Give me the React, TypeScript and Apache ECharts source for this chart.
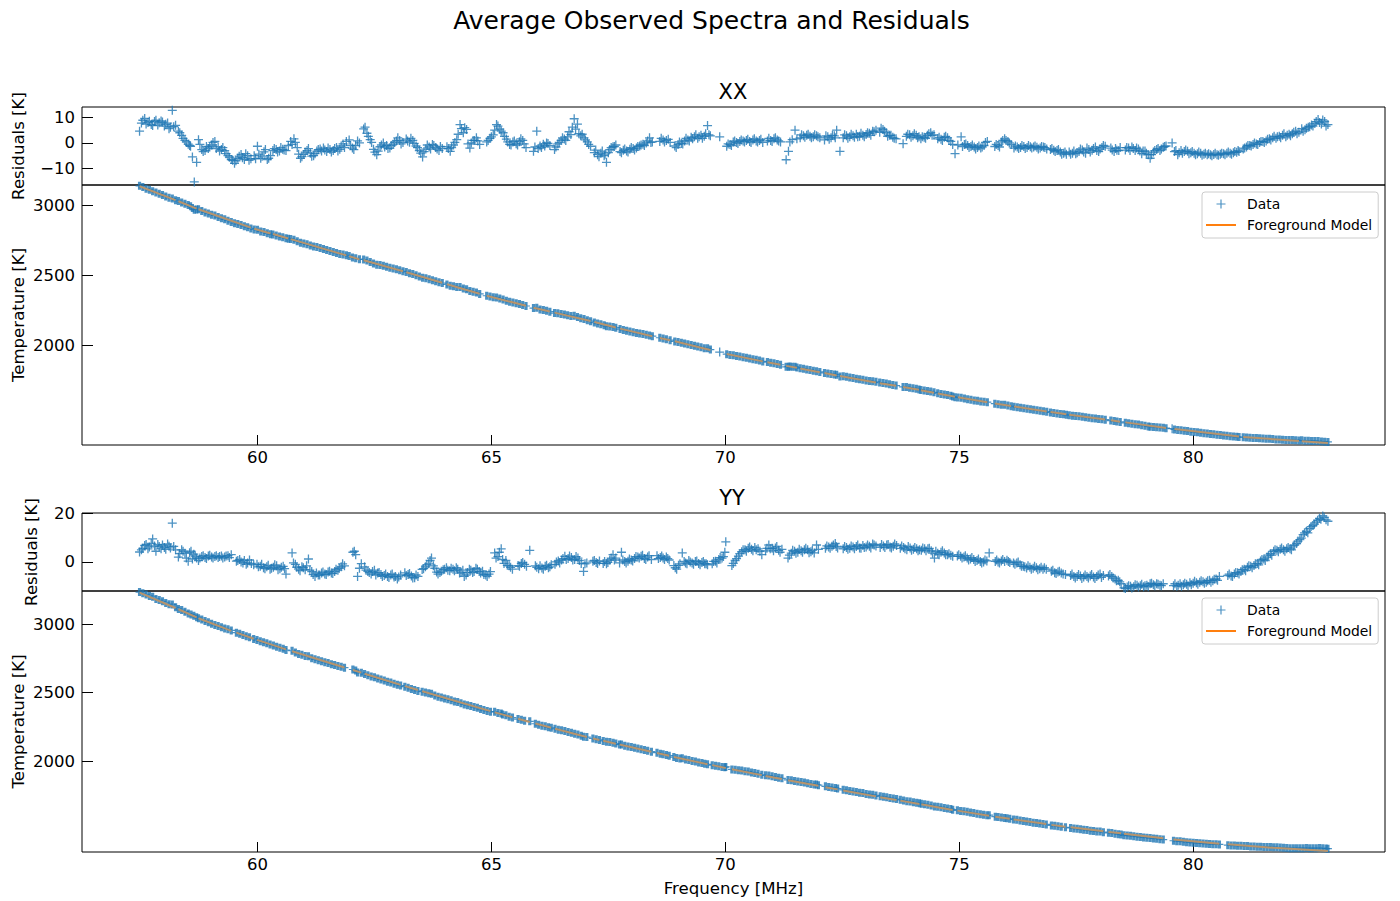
import React, { useEffect, useRef } from "react";
import * as echarts from "echarts";

// channels kept after flagging, one row per contiguous block
const freqXX = [
  57.48,57.55,57.62,57.69,57.76,57.83,57.90,57.97,58.04,58.11,58.18,58.25,
  58.31,58.38,58.45,58.52,58.57,58.61,58.65,58.70,
  58.74,58.81,58.88,58.95,59.02,59.09,59.16,59.23,59.30,59.37,59.44,59.51,59.58,59.65,59.72,59.79,59.86,
  59.93,60.00,60.07,60.14,60.21,60.28,
  60.33,60.40,60.47,60.54,60.61,60.66,
  60.71,60.78,60.85,60.92,60.99,61.06,61.13,61.20,61.27,61.34,61.41,61.48,61.55,61.62,61.69,61.76,61.83,61.90,
  61.96,62.03,62.10,62.18,
  62.27,62.34,62.41,62.48,62.55,62.62,62.69,62.76,62.83,62.90,62.97,63.04,63.11,
  63.18,63.25,63.32,63.39,63.46,63.53,63.60,63.67,63.74,63.81,63.88,63.95,
  64.05,64.12,64.19,64.26,64.33,64.40,64.47,64.54,64.61,64.68,64.75,
  64.90,64.97,65.04,65.11,65.18,65.25,65.32,65.39,65.46,65.53,65.60,65.67,65.74,
  65.90,65.97,66.04,66.11,66.18,66.25,
  66.35,66.42,66.49,66.56,66.63,66.70,66.77,66.84,66.91,66.98,67.05,67.12,
  67.20,67.27,67.34,67.41,67.46,67.53,67.60,67.66,
  67.75,67.82,67.89,67.96,68.03,68.10,68.17,68.24,68.31,68.38,68.44,
  68.60,68.67,68.74,68.82,
  68.92,68.99,69.06,69.13,69.20,69.27,69.34,69.41,69.48,69.55,69.62,69.68,
  69.88,
  70.03,70.10,70.17,70.24,70.31,70.38,70.45,70.52,70.59,70.66,70.73,70.80,
  70.90,70.97,71.04,71.11,71.18,
  71.30,71.35,71.38,71.43,71.49,71.53,
  71.60,71.67,71.74,71.81,71.88,71.95,72.02,
  72.12,72.19,72.26,72.33,72.38,
  72.45,72.52,72.59,72.66,72.73,72.80,72.87,72.94,73.01,73.08,73.15,73.22,
  73.30,73.37,73.44,73.51,73.58,73.65,
  73.80,73.87,73.94,74.01,74.08,74.14,
  74.18,74.25,74.32,74.39,74.46,
  74.54,74.61,74.68,74.75,74.82,74.86,74.91,
  74.97,75.04,75.11,75.18,75.25,75.32,75.39,75.46,75.53,75.60,
  75.76,75.83,75.90,75.97,76.04,76.11,
  76.17,76.24,76.31,76.38,76.45,76.52,76.59,76.66,76.73,76.80,76.87,
  76.95,77.02,77.09,77.16,77.23,77.29,
  77.35,77.42,77.49,77.56,77.63,77.70,77.77,77.84,77.91,77.98,78.05,78.12,
  78.24,78.31,78.37,78.44,
  78.55,78.62,78.69,78.76,78.83,78.90,78.97,79.04,79.08,79.15,79.22,79.29,79.36,79.42,
  79.55,
  79.60,79.67,79.74,79.81,79.88,79.95,80.02,80.09,80.16,80.23,80.30,80.37,80.44,80.51,80.58,80.65,80.72,80.79,80.86,80.93,80.98,
  81.07,81.14,81.21,81.28,81.35,81.42,81.49,81.56,81.63,81.70,81.77,81.84,81.91,81.98,82.05,82.12,82.19,82.26,
  82.32,82.39,82.46,82.53,82.60,82.67,82.74,82.81,82.88,
];
const residualXX = [
  4.6,8.9,7.4,8.5,6.8,8.9,7.9,8.2,7.3,5.6,12.8,6.9,
  4.6,3.0,1.0,-0.5,-1.3,-5.5,-15.3,-7.6,
  1.3,-2.6,-3.0,-2.2,-0.8,0.6,-1.5,-2.6,-3.0,-5.0,-6.5,-8.0,-6.0,-4.5,-6.5,-5.0,-6.2,
  -5.0,-1.3,-6.0,-3.5,-6.5,-5.0,
  -3.0,-2.6,-3.2,-2.5,-3.0,-1.0,
  0.6,1.6,-1.8,-6.0,-4.5,-3.0,-4.0,-5.0,-3.2,-2.4,-2.0,-3.4,-2.6,-3.0,-1.8,-2.5,-0.4,0.6,
  1.2,-2.0,-1.0,0.0,
  5.5,3.8,1.3,-2.5,-4.6,-1.5,0.0,-1.0,-2.0,-0.5,0.8,1.0,0.2,
  1.5,0.3,1.0,-1.2,-3.0,-5.5,-2.4,-1.6,-0.6,-1.8,-3.0,-2.2,
  -1.5,-3.3,-0.8,1.3,7.2,4.0,5.3,-2.0,1.0,2.0,-0.6,
  0.4,1.8,3.2,7.2,5.4,4.0,1.5,-0.6,0.4,-0.3,0.5,1.0,-1.8,
  -3.3,4.6,-1.2,-0.5,0.0,-1.0,
  -2.6,-0.4,1.0,1.5,2.4,3.3,9.5,7.4,2.8,2.0,0.4,-1.3,
  -3.8,-4.6,-4.0,-5.0,-7.6,-2.6,-1.5,-0.8,
  -3.4,-2.9,-3.2,-2.5,-2.2,-2.0,-1.2,-0.5,0.0,2.0,0.4,
  0.6,1.2,1.0,0.2,
  -1.2,-0.6,-0.2,0.8,1.2,2.2,2.4,1.8,3.0,2.6,6.8,2.8,
  2.4,
  -1.3,-0.6,0.4,0.2,0.6,0.8,1.0,0.6,1.2,0.8,1.0,0.2,
  0.8,1.0,1.6,1.2,0.4,
  -6.6,-3.3,0.4,1.3,5.0,1.6,
  2.0,2.8,3.0,2.6,2.4,2.8,2.0,
  1.2,2.4,2.0,2.8,5.0,
  -3.3,2.0,2.8,2.4,2.8,3.4,2.6,3.0,3.3,3.8,4.6,5.0,
  4.2,5.3,4.0,3.0,2.2,1.6,
  -0.3,2.6,3.2,2.8,3.0,2.4,
  1.6,2.2,3.0,4.0,3.2,
  1.6,1.4,2.2,2.0,0.6,-0.6,-4.2,
  -0.8,2.4,-0.6,-1.0,-1.4,-1.6,-1.8,-2.0,-1.0,0.6,
  -1.4,-1.0,0.4,1.6,0.6,-0.6,
  -2.0,-1.6,-1.8,-1.4,-1.8,-1.5,-1.6,-1.7,-2.0,-1.6,-2.4,
  -2.6,-2.9,-3.0,-3.6,-4.0,-4.4,
  -3.6,-4.0,-4.2,-3.4,-2.8,-4.0,-2.6,-2.9,-1.6,-3.4,-1.8,-1.3,
  -2.0,-3.4,-2.9,-1.8,
  -2.8,-2.0,-1.6,-3.0,-2.4,-4.2,-3.2,-4.6,-6.0,-3.6,-2.6,-3.0,-1.7,-1.2,
  0.0,
  -3.4,-4.6,-3.0,-3.4,-3.3,-3.8,-4.0,-4.2,-4.0,-4.4,-4.6,-4.6,-4.5,-4.6,-4.4,-4.2,-4.0,-4.0,-3.8,-3.7,-3.4,
  -2.4,-1.6,-1.0,-0.6,-0.4,0.2,0.6,0.8,1.6,2.0,1.8,2.6,3.0,2.4,3.4,3.6,4.6,4.2,
  5.6,5.2,6.2,7.0,7.6,9.2,7.4,8.4,7.2,
];
const freqBetweenXX = [
  57.52,57.59,57.66,57.73,57.80,57.87,57.94,58.01,58.08,58.14,58.21,
  58.34,58.41,58.48,58.55,
  58.77,58.84,58.91,58.98,59.05,59.12,59.19,59.26,59.33,59.40,59.47,59.54,59.61,59.68,59.75,59.82,
  59.96,60.03,60.10,60.17,60.24,
  60.36,60.43,60.50,60.57,
  60.74,60.81,60.88,60.95,61.02,61.09,61.16,61.23,61.30,61.37,61.44,61.51,61.58,61.65,61.72,61.79,61.86,
  61.99,62.06,62.14,
  62.30,62.37,62.44,62.51,62.58,62.65,62.72,62.79,62.86,62.93,63.00,63.07,
  63.21,63.28,63.35,63.42,63.49,63.56,63.63,63.70,63.77,63.84,63.91,
  64.08,64.15,64.22,64.29,64.36,64.43,64.50,64.57,64.64,64.71,
  64.93,65.00,65.07,65.14,65.21,65.28,65.35,65.42,65.49,65.56,65.63,65.70,
  65.93,66.00,66.07,66.14,66.21,
  66.38,66.45,66.52,66.59,66.66,66.73,66.80,66.87,66.94,67.01,67.08,
  67.23,67.30,67.37,67.43,67.50,67.56,67.63,
  67.78,67.85,67.92,67.99,68.06,68.13,68.20,68.27,68.34,68.41,
  68.63,68.70,68.78,
  68.95,69.02,69.09,69.16,69.23,69.30,69.37,69.44,69.51,69.58,69.65,
  70.06,70.13,70.20,70.27,70.34,70.41,70.48,70.55,70.62,70.69,70.76,
  70.93,71.00,71.07,71.14,
  71.63,71.70,71.77,71.84,71.91,71.98,
  72.15,72.22,72.29,72.35,
  72.55,72.62,72.69,72.76,72.83,72.90,72.97,73.04,73.11,73.18,
  73.33,73.40,73.47,73.54,73.61,
  73.90,73.97,74.04,74.11,
  74.21,74.28,74.35,74.42,
  74.57,74.64,74.71,74.78,
  75.07,75.14,75.21,75.28,75.35,75.42,75.49,75.56,
  75.79,75.86,75.93,76.00,76.07,
  76.20,76.27,76.34,76.41,76.48,76.55,76.62,76.69,76.76,76.83,
  76.98,77.05,77.12,77.19,77.26,
  77.38,77.45,77.52,77.59,77.66,77.73,77.80,77.87,77.94,78.01,78.08,
  78.27,78.34,78.41,
  78.58,78.65,78.72,78.79,78.86,78.93,79.00,79.11,79.18,79.25,79.32,79.39,
  79.63,79.70,79.77,79.84,79.91,79.98,80.05,80.12,80.19,80.26,80.33,80.40,80.47,80.54,80.61,80.68,80.75,80.82,80.89,80.96,
  81.10,81.17,81.24,81.31,81.38,81.45,81.52,81.59,81.66,81.73,81.80,81.87,81.94,82.01,82.08,82.15,82.22,
  82.35,82.42,82.49,82.56,82.63,82.70,82.77,82.84,
];
const residualBetweenXX = [
  7.8,9.6,8.0,7.2,8.4,7.0,8.6,6.6,7.8,6.2,6.4,
  4.0,1.8,0.4,-1.0,
  -0.6,-3.4,-1.4,-1.6,0.2,-2.2,-3.2,-1.8,-4.2,-5.6,-6.8,-7.0,-5.2,-5.8,-4.2,-6.8,
  -6.2,-4.4,-5.2,-2.6,-6.0,
  -2.2,-3.6,-1.8,-2.8,
  -0.6,0.2,-4.4,-5.4,-3.6,-2.2,-5.2,-4.2,-2.6,-3.2,-2.8,-2.0,-3.6,-2.2,-3.2,-1.2,-1.8,
  -1.0,-2.6,0.8,
  6.2,2.6,0.2,-3.6,-3.2,-0.8,-1.6,-2.2,-1.0,0.2,2.0,-0.4,
  0.8,1.8,-0.2,-1.8,-4.0,-3.4,-0.8,-2.4,-1.0,-2.4,-1.4,
  -2.2,-1.8,0.2,3.4,5.6,6.0,-0.4,0.0,1.0,0.8,
  1.0,2.4,5.0,6.6,4.6,2.6,0.4,-0.8,0.8,-0.8,1.6,-0.4,
  -1.6,-2.2,-1.8,-1.2,-0.2,
  -1.6,0.2,2.0,1.0,4.4,6.2,5.4,3.6,3.4,1.2,-0.6,
  -2.8,-5.4,-3.2,-4.4,-3.8,-1.8,-1.4,
  -3.8,-2.4,-3.6,-1.8,-2.8,-1.4,-0.8,-1.0,0.8,0.2,
  1.8,0.4,1.4,
  -1.8,0.4,-0.4,1.8,0.8,1.6,3.2,2.4,1.8,3.6,3.2,
  -0.4,-1.0,0.8,-0.2,1.2,0.4,1.4,0.2,1.6,0.4,1.4,
  1.8,0.6,2.0,0.8,
  3.2,2.2,3.4,2.0,3.2,2.4,
  2.8,1.4,3.0,2.0,
  3.2,1.8,3.4,2.2,2.4,3.8,2.4,4.0,3.0,4.4,
  5.8,4.6,2.6,3.0,1.8,
  3.4,2.2,3.6,2.0,
  2.4,1.8,3.6,3.0,
  2.2,1.0,2.6,1.0,
  -1.4,-0.4,-1.8,-0.8,-2.4,-1.2,-1.6,0.2,
  -0.6,-1.6,1.0,1.0,0.0,
  -1.2,-2.2,-1.0,-2.2,-1.0,-2.0,-1.2,-2.4,-1.4,-1.8,
  -2.2,-3.4,-2.6,-4.4,-3.6,
  -4.4,-3.2,-3.8,-2.4,-3.6,-2.0,-3.6,-2.2,-3.0,-2.4,-1.0,
  -2.8,-2.2,-3.0,
  -1.8,-3.0,-2.2,-2.0,-3.2,-3.2,-4.0,-4.6,-3.0,-2.2,-2.4,-1.4,
  -3.0,-3.8,-4.0,-2.8,-4.2,-3.4,-4.6,-3.6,-4.8,-4.0,-4.2,-5.0,-4.0,-4.8,-4.0,-4.6,-3.6,-4.4,-3.4,-3.0,
  -2.0,-1.0,-1.2,0.0,-0.6,0.6,0.2,1.4,1.2,2.6,2.4,2.0,3.6,3.0,2.8,4.2,3.6,
  4.6,5.8,6.4,6.6,8.4,8.0,9.0,6.6,
];
const tempXX = [
  3137,3128,3117,3109,3099,3090,3081,3072,3061,3052,3047,3035,
  3029,3019,3009,3000,2991,2980,2967,2968,
  2971,2958,2948,2940,2932,2926,2915,2907,2899,2889,2880,2871,2865,2859,2850,2843,2834,
  2827,2824,2813,2809,2799,2793,
  2791,2784,2777,2771,2764,2761,
  2759,2753,2742,2732,2727,2721,2713,2705,2701,2695,2688,2680,2673,2666,2660,2652,2649,2643,
  2637,2627,2621,2615,
  2613,2605,2595,2585,2576,2573,2568,2561,2554,2548,2544,2537,2529,
  2524,2515,2510,2501,2492,2483,2479,2472,2466,2459,2451,2445,
  2435,2427,2423,2418,2417,2407,2401,2388,2384,2378,2368,
  2355,2350,2345,2343,2335,2328,2320,2312,2307,2301,2296,2290,2282,
  2267,2269,2258,2253,2248,2242,
  2232,2230,2226,2221,2216,2211,2212,2204,2195,2189,2181,2174,
  2164,2157,2152,2145,2138,2137,2133,2128,
  2118,2112,2106,2100,2096,2090,2086,2082,2077,2073,2067,
  2056,2051,2046,2039,
  2030,2025,2020,2015,2009,2005,1999,1993,1988,1982,1981,1972,
  1954,
  1939,1934,1931,1926,1922,1918,1913,1909,1904,1899,1894,1888,
  1883,1878,1874,1869,1864,
  1849,1850,1851,1849,1849,1844,
  1839,1836,1831,1827,1822,1818,1813,
  1806,1802,1798,1795,1793,
  1781,1782,1778,1773,1770,1765,1761,1757,1752,1749,1746,1743,
  1737,1735,1730,1725,1720,1716,
  1706,1705,1701,1697,1693,1688,
  1685,1681,1677,1674,1668,
  1662,1656,1653,1648,1643,1638,1632,
  1631,1630,1623,1619,1615,1610,1607,1603,1600,1598,
  1587,1583,1580,1579,1574,1569,
  1565,1561,1558,1555,1551,1548,1544,1540,1537,1533,1530,
  1525,1521,1518,1514,1511,1508,
  1505,1502,1499,1497,1494,1490,1487,1484,1482,1478,1476,1473,
  1467,1463,1460,1457,
  1451,1448,1445,1441,1438,1433,1430,1425,1423,1421,1420,1417,1415,1413,
  1409,
  1404,1399,1398,1395,1392,1388,1385,1383,1380,1377,1374,1371,1369,1366,1364,1361,1359,1356,1353,1351,1350,
  1348,1346,1345,1343,1343,1341,1340,1338,1337,1335,1333,1333,1331,1328,1328,1328,1327,1325,
  1326,1323,1323,1322,1322,1321,1318,1317,1315,
];
const modelFreqXX = [
  57.48,58.25,null,58.31,58.70,null,58.74,59.86,null,59.93,60.28,null,60.33,60.66,null,60.71,61.90,null,
  61.96,62.18,null,62.27,63.11,null,63.18,63.95,null,64.05,64.75,null,64.90,65.74,null,65.90,66.25,null,
  66.35,67.12,null,67.20,67.66,null,67.75,68.44,null,68.60,68.82,null,68.92,69.68,null,70.03,70.80,null,
  70.90,71.18,null,71.30,71.53,null,71.60,72.02,null,72.12,72.38,null,72.45,73.22,null,73.30,73.65,null,
  73.80,74.14,null,74.18,74.46,null,74.54,74.91,null,74.97,75.60,null,75.76,76.11,null,76.17,76.87,null,
  76.95,77.29,null,77.35,78.12,null,78.24,78.44,null,78.55,79.42,null,79.60,80.98,null,81.07,82.26,null,
  82.32,82.88,
];
const modelXX = [
  3134,3035,null,3027,2975,null,2970,2840,null,2832,2798,null,2794,2762,null,2758,2642,null,
  2636,2614,null,2607,2529,null,2522,2447,null,2437,2369,null,2355,2284,null,2270,2243,null,
  2235,2175,null,2168,2129,null,2121,2067,null,2055,2039,null,2031,1969,null,1940,1888,null,
  1882,1864,null,1856,1842,null,1837,1811,null,1805,1788,null,1784,1738,null,1733,1714,null,
  1706,1686,null,1683,1665,null,1660,1636,null,1632,1597,null,1588,1570,null,1567,1532,null,
  1528,1512,null,1509,1474,null,1469,1459,null,1454,1414,null,1407,1353,null,1350,1321,null,
  1320,1308,
];

const freqYY = [
  57.48,57.55,57.62,57.69,57.76,57.83,57.90,57.97,58.04,58.11,58.18,58.25,
  58.31,58.38,58.45,58.52,58.58,58.64,58.70,
  58.74,58.81,58.88,58.95,59.02,59.09,59.16,59.23,59.30,59.37,59.44,
  59.55,59.62,59.69,59.76,59.83,59.92,
  59.99,60.06,60.13,60.20,60.27,60.34,60.41,60.48,60.55,60.61,
  60.74,60.81,60.88,60.95,61.02,61.09,61.16,61.23,61.30,61.37,61.44,61.51,61.58,61.65,61.72,61.79,61.86,
  62.04,62.10,62.14,62.22,
  62.29,62.36,62.43,62.50,62.57,62.64,62.71,62.78,62.85,62.92,62.99,63.06,
  63.15,63.22,63.29,63.36,63.43,
  63.52,63.59,63.66,63.72,63.79,63.86,63.93,64.00,64.07,64.14,64.21,64.28,64.35,64.42,64.49,64.56,64.63,64.70,64.77,64.84,64.91,64.98,
  65.07,65.14,65.21,65.24,65.31,65.38,65.45,
  65.57,65.64,65.71,65.82,
  65.94,66.01,66.08,66.15,66.22,66.28,
  66.36,66.43,66.50,66.57,66.64,66.71,66.78,66.85,66.92,66.97,67.04,
  67.17,67.24,67.31,
  67.39,67.46,67.53,67.60,67.66,
  67.74,67.78,67.85,67.92,67.99,68.06,68.13,68.20,68.27,68.34,68.42,
  68.54,68.61,68.67,68.74,68.80,
  68.90,68.96,69.03,69.08,69.15,69.22,69.29,69.36,69.43,69.50,69.56,69.62,
  69.72,69.79,69.86,69.93,69.99,70.01,
  70.14,70.21,70.28,70.35,70.42,70.49,70.56,70.63,70.70,70.78,
  70.86,70.93,71.00,71.07,71.14,71.21,
  71.34,71.41,71.48,71.55,71.62,71.69,71.76,71.83,71.90,71.95,71.99,
  72.14,72.21,72.28,72.35,72.40,
  72.52,72.59,72.66,72.73,72.80,72.87,72.94,73.01,73.08,73.15,73.22,
  73.31,73.38,73.45,73.52,73.59,73.66,
  73.74,73.81,73.88,73.95,74.02,74.09,74.15,
  74.19,74.26,74.33,74.40,74.47,74.54,74.61,74.68,74.75,74.82,74.86,
  74.96,75.03,75.10,75.17,75.24,75.31,75.38,75.45,75.52,75.59,75.64,
  75.77,75.83,75.90,75.97,76.02,76.08,
  76.16,76.23,76.30,76.37,76.44,76.51,76.58,76.65,76.72,76.79,76.86,
  76.97,77.04,77.11,77.18,77.27,
  77.38,77.45,77.52,77.59,77.66,77.73,77.80,77.87,77.94,78.01,78.08,
  78.19,78.26,78.33,78.40,78.46,
  78.52,78.59,78.66,78.73,78.80,78.87,78.94,79.01,79.08,79.15,79.22,79.29,79.36,
  79.58,79.65,79.72,79.79,79.86,79.93,80.00,80.07,80.14,80.21,80.28,80.35,80.42,80.49,80.56,
  80.74,80.81,80.88,80.95,81.02,81.09,81.16,81.23,81.30,81.37,81.44,81.51,81.58,81.65,81.72,81.79,81.86,81.93,82.00,82.07,82.14,82.21,82.28,82.35,82.42,82.49,82.56,82.63,82.70,82.77,82.84,82.88,
];
const residualYY = [
  4.1,5.6,7.2,6.2,9.5,4.4,6.4,7.0,5.2,6.5,16.0,5.0,
  2.0,5.0,3.6,0.3,4.4,3.2,1.6,
  0.6,2.2,1.8,2.4,2.0,2.2,1.8,2.4,2.0,2.6,3.0,
  0.3,1.0,-0.4,-1.0,0.8,-1.2,
  -1.0,-1.8,-2.4,-2.0,-3.0,-2.2,-1.6,-2.8,-1.8,-5.0,
  3.7,-1.0,-3.0,-2.0,-3.2,1.2,-4.0,-6.0,-5.4,-4.6,-5.0,-4.2,-4.6,-4.0,-3.4,-2.0,-1.6,
  4.0,3.0,-6.0,-0.7,
  -2.0,-3.9,-5.0,-3.4,-4.6,-5.2,-5.6,-6.0,-5.4,-6.2,-7.0,-5.4,
  -4.5,-5.2,-5.8,-6.5,-6.0,
  -3.1,-2.0,-0.8,1.6,-2.6,-5.0,-3.8,-3.0,-3.4,-2.6,-3.6,-3.0,-4.2,-6.0,-4.4,-3.4,-4.0,-3.0,-4.6,-5.2,-6.0,-4.0,
  3.7,2.2,5.4,1.0,0.6,-1.6,-3.0,
  -1.5,-0.6,-1.0,4.8,
  -1.6,-2.8,-2.5,-1.8,-2.4,-1.2,
  -1.0,0.4,0.8,2.3,1.4,1.8,1.0,1.6,-0.6,-3.9,-0.4,
  0.3,-0.2,0.4,
  -0.6,-0.7,0.8,3.0,1.6,
  -0.4,4.0,0.2,0.3,0.8,1.4,2.0,2.3,1.4,2.0,1.0,
  2.6,1.8,1.6,2.0,0.8,
  -1.5,-3.0,-0.8,3.7,-0.4,0.6,-0.4,0.2,-0.6,-0.2,-0.7,-1.2,
  -0.8,0.3,1.0,1.6,4.0,8.3,
  -1.5,0.6,2.4,4.2,5.0,5.6,5.2,6.0,5.4,3.0,
  4.6,7.0,5.6,5.8,4.8,5.2,
  1.6,3.6,4.4,4.0,4.6,5.0,5.0,4.2,3.7,7.0,5.2,
  5.6,6.2,6.5,7.6,5.8,
  5.4,6.0,5.6,6.2,6.4,5.8,6.8,6.2,6.5,7.4,6.6,
  6.0,6.6,7.0,6.2,6.5,6.8,
  5.6,6.0,5.0,5.8,5.2,5.4,5.0,
  4.8,5.4,5.4,4.6,1.6,3.6,4.0,3.7,3.0,2.8,2.3,
  2.4,2.3,2.0,1.6,1.2,1.0,0.6,0.2,0.0,0.4,3.7,
  0.2,0.0,0.4,0.2,0.7,-0.2,
  -0.4,-0.4,-1.2,-1.8,-2.5,-2.2,-2.6,-2.4,-2.8,-3.0,-3.0,
  -3.8,-4.5,-4.2,-4.6,-5.2,
  -5.6,-6.0,-6.0,-5.8,-6.2,-6.0,-5.8,-6.2,-6.0,-5.0,-5.6,
  -5.8,-6.0,-7.0,-7.6,-9.0,
  -10.7,-10.4,-10.0,-10.2,-9.6,-9.8,-10.2,-9.6,-9.0,-9.4,-9.0,-9.6,-9.0,
  -9.8,-10.0,-9.0,-9.4,-9.2,-8.6,-8.8,-8.6,-8.4,-8.2,-8.4,-7.6,-7.8,-7.0,-6.0,
  -5.6,-5.8,-5.0,-4.5,-4.0,-3.0,-2.2,-1.8,-1.5,-0.6,0.4,1.2,2.0,3.4,4.4,4.8,5.2,5.0,5.4,5.4,6.6,7.6,9.2,11.3,12.6,13.8,15.0,16.4,18.0,19.0,17.4,16.8,
];
const freqBetweenYY = [
  57.52,57.59,57.66,57.73,57.80,57.87,57.94,58.01,58.08,58.14,58.21,
  58.34,58.41,58.48,58.55,58.61,58.67,
  58.77,58.84,58.91,58.98,59.05,59.12,59.19,59.26,59.33,59.40,
  59.58,59.65,59.72,59.79,59.87,
  60.02,60.09,60.16,60.23,60.30,60.37,60.44,60.51,60.58,
  60.77,60.84,60.91,60.98,61.05,61.12,61.19,61.26,61.33,61.40,61.47,61.54,61.61,61.68,61.75,61.82,
  62.07,62.18,
  62.32,62.39,62.46,62.53,62.60,62.67,62.74,62.81,62.88,62.95,63.02,
  63.18,63.25,63.32,63.39,
  63.55,63.62,63.69,63.76,63.83,63.90,63.97,64.04,64.11,64.18,64.25,64.32,64.39,64.46,64.53,64.60,64.67,64.74,64.81,64.88,64.95,
  65.10,65.17,65.27,65.34,65.41,
  65.60,65.67,65.75,
  65.97,66.04,66.11,66.18,66.25,
  66.39,66.46,66.53,66.60,66.67,66.74,66.81,66.88,67.00,
  67.20,67.27,
  67.42,67.49,67.56,67.63,
  67.81,67.88,67.95,68.02,68.09,68.16,68.23,68.30,68.37,
  68.57,68.64,68.70,68.77,
  68.93,69.00,69.12,69.18,69.25,69.32,69.39,69.46,69.53,69.59,
  69.75,69.82,69.89,69.96,
  70.17,70.24,70.31,70.38,70.45,70.52,70.59,70.66,70.74,
  70.89,70.96,71.03,71.10,71.17,
  71.37,71.44,71.51,71.58,71.65,71.72,71.79,71.86,
  72.17,72.24,72.31,72.37,
  72.55,72.62,72.69,72.76,72.83,72.90,72.97,73.04,73.11,73.18,
  73.34,73.41,73.48,73.55,73.62,
  73.77,73.84,73.91,73.98,74.05,74.12,
  74.22,74.29,74.36,74.43,74.50,74.57,74.64,74.71,74.78,
  74.99,75.06,75.13,75.20,75.27,75.34,75.41,75.48,75.55,
  75.80,75.86,75.93,76.05,
  76.19,76.26,76.33,76.40,76.47,76.54,76.61,76.68,76.75,76.82,
  77.00,77.07,77.14,77.22,
  77.41,77.48,77.55,77.62,77.69,77.76,77.83,77.90,77.97,78.04,
  78.22,78.29,78.36,78.43,
  78.55,78.62,78.69,78.76,78.83,78.90,78.97,79.04,79.11,79.18,79.25,79.32,
  79.61,79.68,79.75,79.82,79.89,79.96,80.03,80.10,80.17,80.24,80.31,80.38,80.45,80.52,
  80.77,80.84,80.91,80.98,81.05,81.12,81.19,81.26,81.33,81.40,81.47,81.54,81.61,81.68,81.75,81.82,81.89,81.96,82.03,82.10,82.17,82.24,82.31,82.38,82.45,82.52,82.59,82.66,82.73,82.80,
];
const residualBetweenYY = [
  5.0,6.8,5.4,7.6,6.6,7.2,5.4,6.0,7.4,5.8,6.4,
  3.4,4.4,1.6,3.8,1.2,2.4,
  1.6,2.6,1.4,2.8,1.6,2.6,2.2,1.6,2.4,1.8,
  0.6,0.0,0.6,-0.4,-0.6,
  -2.0,-1.0,-2.8,-1.4,-2.6,-1.2,-3.2,-2.2,-2.8,
  -0.4,-2.2,-3.6,-2.4,-1.6,-3.4,-5.2,-4.6,-5.4,-4.2,-5.2,-3.8,-4.8,-3.0,-2.6,-0.8,
  4.4,-2.6,
  -3.4,-4.4,-4.0,-5.4,-4.4,-6.0,-5.0,-6.4,-5.0,-6.0,-6.2,
  -5.6,-4.8,-6.6,-5.4,
  -2.8,-1.2,0.6,-1.6,-4.2,-4.4,-3.2,-2.4,-3.6,-3.0,-2.4,-4.6,-3.4,-5.4,-3.0,-4.4,-2.6,-4.0,-3.8,-5.4,-5.0,
  1.6,4.0,-0.6,-1.4,-2.2,
  -1.8,-0.2,-1.8,
  -2.2,-1.6,-3.0,-1.4,-2.0,
  0.0,-0.4,1.4,1.0,2.4,0.8,2.2,0.6,-0.8,
  0.6,-0.6,
  0.2,-0.2,1.6,0.8,
  0.8,-0.4,1.2,0.4,2.2,1.6,2.8,1.0,2.6,
  1.4,2.4,1.0,1.4,
  -2.4,-1.4,0.2,-0.8,0.0,-1.0,0.4,-1.2,0.2,-0.8,
  0.2,-0.4,1.8,2.2,
  -0.6,1.4,3.4,5.0,4.4,6.2,4.6,5.0,4.4,
  5.6,5.4,4.6,6.4,4.0,
  2.8,4.8,3.6,5.2,4.0,5.6,3.8,4.8,
  6.6,5.6,7.0,6.4,
  6.4,5.2,6.6,5.4,7.0,5.6,6.0,7.0,5.8,7.0,
  7.2,6.0,7.2,5.8,7.4,
  6.6,5.4,6.4,4.8,6.0,4.6,
  5.8,4.6,5.6,3.6,4.4,3.0,4.6,3.0,3.4,
  3.0,1.6,2.6,0.8,1.8,0.2,1.2,-0.4,0.8,
  0.8,-0.4,1.0,0.2,
  -1.0,0.0,-1.8,-2.0,-1.6,-3.0,-1.8,-3.2,-2.2,-2.4,
  -3.4,-4.8,-3.8,-5.0,
  -5.0,-6.6,-5.2,-6.8,-5.4,-6.6,-5.2,-6.8,-5.4,-6.4,
  -5.2,-6.6,-7.8,-8.2,
  -11.0,-9.8,-10.8,-9.4,-10.4,-9.2,-9.8,-10.2,-8.8,-9.8,-9.2,-9.8,
  -9.0,-9.6,-10.0,-8.8,-9.8,-9.4,-8.0,-9.2,-7.8,-8.8,-7.8,-8.4,-7.2,-7.6,
  -5.0,-6.0,-4.4,-5.0,-3.2,-3.6,-1.6,-2.4,-0.8,-1.2,1.0,0.6,2.8,2.8,5.0,4.2,5.8,4.4,6.0,5.0,7.0,8.6,9.8,12.0,12.0,14.6,15.6,17.2,17.6,18.4,
];
const tempYY = [
  3233,3225,3216,3205,3199,3183,3175,3166,3154,3145,3143,3122,
  3110,3102,3090,3076,3070,3060,3050,
  3043,3033,3022,3012,3002,2993,2985,2977,2968,2961,2953,
  2937,2929,2920,2911,2904,2891,
  2883,2874,2867,2859,2850,2843,2835,2827,2820,2810,
  2805,2792,2782,2776,2767,2764,2751,2742,2736,2729,2721,2715,2707,2700,2694,2688,2681,
  2668,2660,2647,2644,
  2635,2626,2617,2612,2603,2595,2587,2579,2573,2564,2556,2551,
  2543,2535,2526,2519,2512,
  2506,2500,2494,2491,2479,2469,2463,2457,2450,2443,2435,2430,2422,2413,2408,2402,2394,2388,2379,2372,2365,2360,
  2359,2351,2347,2340,2334,2324,2317,
  2306,2301,2294,2290,
  2272,2264,2258,2253,2246,2242,
  2235,2229,2224,2219,2211,2206,2199,2193,2184,2177,2175,
  2165,2159,2154,
  2147,2141,2138,2134,2128,
  2120,2121,2112,2106,2102,2096,2092,2086,2080,2075,2068,
  2061,2054,2050,2044,2039,
  2029,2022,2019,2020,2011,2007,2001,1996,1990,1986,1981,1976,
  1969,1965,1961,1957,1955,1957,
  1939,1937,1933,1930,1926,1923,1917,1913,1907,1900,
  1896,1894,1888,1884,1878,1874,
  1862,1860,1855,1851,1847,1843,1838,1833,1828,1828,1824,
  1815,1811,1807,1804,1799,
  1790,1787,1782,1778,1774,1769,1766,1760,1756,1753,1749,
  1742,1739,1735,1730,1727,1722,
  1717,1712,1707,1704,1699,1695,1691,
  1689,1685,1680,1676,1669,1667,1663,1658,1653,1649,1645,
  1640,1636,1633,1629,1624,1620,1616,1612,1608,1604,1605,
  1594,1591,1587,1584,1582,1578,
  1574,1571,1566,1562,1558,1555,1550,1548,1544,1540,1537,
  1530,1527,1524,1520,1516,
  1511,1508,1505,1502,1499,1496,1492,1489,1486,1485,1481,
  1476,1474,1470,1466,1463,
  1458,1456,1454,1451,1448,1445,1442,1440,1438,1435,1433,1429,1427,
  1418,1415,1414,1411,1408,1406,1403,1401,1400,1398,1396,1395,1393,1392,1391,
  1386,1384,1383,1382,1381,1380,1379,1377,1376,1375,1374,1373,1373,1372,1371,1370,1369,1367,1365,1364,1364,1364,1364,1364,1365,1364,1364,1364,1365,1364,1361,1360,
];
const modelFreqYY = [
  57.48,58.25,null,58.31,58.70,null,58.74,59.44,null,59.55,59.92,null,59.99,60.61,null,60.74,61.86,null,
  62.04,62.22,null,62.29,63.06,null,63.15,63.43,null,63.52,64.98,null,65.07,65.45,null,65.57,65.82,null,
  65.94,66.28,null,66.36,67.04,null,67.17,67.31,null,67.39,67.66,null,67.74,68.42,null,68.54,68.80,null,
  68.90,69.62,null,69.72,70.01,null,70.14,70.78,null,70.86,71.21,null,71.34,71.99,null,72.14,72.40,null,
  72.52,73.22,null,73.31,73.66,null,73.74,74.15,null,74.19,74.86,null,74.96,75.64,null,75.77,76.08,null,
  76.16,76.86,null,76.97,77.27,null,77.38,78.08,null,78.19,78.46,null,78.52,79.36,null,79.58,80.56,null,
  80.74,81.72,82.88,
];
const modelYY = [
  3229,3117,null,3108,3048,null,3042,2950,null,2937,2892,null,2884,2815,null,2801,2683,null,
  2664,2645,null,2637,2556,null,2547,2518,null,2509,2364,null,2355,2320,null,2308,2285,null,
  2274,2243,null,2236,2175,null,2165,2154,null,2148,2126,null,2120,2067,null,2058,2038,null,
  2030,1977,null,1970,1949,null,1940,1897,null,1891,1869,null,1860,1819,null,1809,1793,null,
  1785,1742,null,1736,1715,null,1711,1686,null,1684,1643,null,1638,1601,null,1594,1578,null,
  1574,1540,null,1534,1521,null,1517,1487,null,1482,1472,null,1469,1436,null,1428,1397,null,
  1392,1367,1343,
];
// channels that stand alone in the temperature panels
const loneChannels = [69.88, 79.55];

const freqTicks = [60, 65, 70, 75, 80];
const residualTicksXX = [-10, 0, 10];
const residualTicksYY = [0, 20];
const tempTicks = [2000, 2500, 3000];

const BLUE = "#1f77b4";
const ORANGE = "#ff7f0e";
const FONT = "DejaVu Sans";
const PLUS = "path://M3.85 0h1.3v3.85h3.85v1.3h-3.85v3.85h-1.3v-3.85h-3.85v-1.3h3.85z";
// wide upright arm: the temperature band is far denser than the channels kept here
const PLUS_BAND = "path://M2.4 0h3.2v3.4h2.4v1.2h-2.4v3.4h-3.2v-3.4h-2.4v-1.2h2.4z";
// specks in the corners pin the legend icons to the full 36x14 key box
const SPECKS = "M0 0h.01v.01h-.01zM35.99 13.99h.01v.01h-.01z";
const KEY_PLUS = `path://M14.4 2.5h1.2v3.9h3.9v1.2h-3.9v3.9h-1.2v-3.9h-3.9v-1.2h3.9z${SPECKS}`;
const KEY_LINE = `path://M0 6h30v2h-30z${SPECKS}`;

const pairs = (xs: (number | null)[], ys: (number | null)[]) =>
  xs.map((x, i) => [x, ys[i]]);

const legendAt = (top: number) => ({
  left: 1202,
  top,
  orient: "vertical" as const,
  padding: [5, 6, 6, 4],
  itemWidth: 36,
  itemHeight: 14,
  itemGap: 7,
  selectedMode: false,
  backgroundColor: "#fff",
  borderColor: "#ccc",
  borderWidth: 1,
  borderRadius: 3,
  textStyle: { fontFamily: FONT, fontSize: 13.9, color: "#000" },
  data: [
    { name: "Data", icon: KEY_PLUS, itemStyle: { color: BLUE } },
    { name: "Foreground Model", icon: KEY_LINE, itemStyle: { color: ORANGE } },
  ],
});

const xAxisFor = (gridIndex: number, labelled: boolean, name?: string) => ({
  type: "value" as const,
  gridIndex,
  min: 56.25,
  max: 84.1,
  name,
  nameLocation: "middle" as const,
  nameGap: 28,
  nameMoveOverlap: false,
  nameTextStyle: { fontFamily: FONT, fontSize: 16.6, color: "#000" },
  splitLine: { show: false },
  axisLine: { show: false },
  axisTick: {
    show: labelled,
    inside: true,
    length: 10,
    customValues: freqTicks,
    lineStyle: { color: "#000" },
  },
  axisLabel: {
    show: labelled,
    margin: 4,
    customValues: freqTicks,
    fontFamily: FONT,
    fontSize: 16.5,
    color: "#000",
  },
});

const yAxisFor = (
  gridIndex: number,
  min: number,
  max: number,
  ticks: number[],
  name: string,
  nameGap: number
) => ({
  type: "value" as const,
  gridIndex,
  min,
  max,
  name,
  nameLocation: "middle" as const,
  nameGap,
  nameMoveOverlap: false,
  nameTextStyle: { fontFamily: FONT, fontSize: 16.6, color: "#000" },
  splitLine: { show: false },
  axisLine: { show: false },
  axisTick: {
    inside: true,
    length: 11,
    customValues: ticks,
    lineStyle: { color: "#000" },
  },
  axisLabel: {
    margin: 7,
    padding: [2, 0, 0, 0],
    customValues: ticks,
    fontFamily: FONT,
    fontSize: 16.5,
    color: "#000",
    formatter: (v: number) => String(v).replace("-", "\u2212"),
  },
});

const plusSeries = (name: string, axis: number, data: any[], symbol: any, size: any) => ({
  name,
  type: "scatter" as const,
  xAxisIndex: axis,
  yAxisIndex: axis,
  data,
  symbol,
  symbolSize: size,
  itemStyle: { color: BLUE },
  silent: true,
  z: 2,
});

const modelSeries = (axis: number, data: any[]) => ({
  name: "Foreground Model",
  type: "line" as const,
  xAxisIndex: axis,
  yAxisIndex: axis,
  data,
  showSymbol: false,
  symbol: "none",
  connectNulls: false,
  lineStyle: { color: "#b8946c", width: 2 },
  silent: true,
  z: 3,
});

const isLone = (v: number[]) => loneChannels.includes(v[0]);
const bandSymbol = (v: number[]) => (isLone(v) ? PLUS : PLUS_BAND);
const bandSize = (v: number[]) => (isLone(v) ? 9 : 8);

const titleStyle = (fontSize: number) => ({
  fontFamily: FONT,
  fontSize,
  fontWeight: "normal" as const,
  color: "#000",
});

const App: React.FC = () => {
  const chartRef = useRef<HTMLDivElement>(null);

  useEffect(() => {
    const chartDom = chartRef.current;
    if (!chartDom) return;
    const myChart = echarts.init(chartDom, undefined, { renderer: "svg" });

    const border = {
      show: true,
      borderColor: "#000",
      borderWidth: 1,
      left: 82,
      right: 15,
      outerBoundsMode: "none",
    };

    myChart.setOption({
      animation: false,
      backgroundColor: "#fff",
      title: [
        {
          text: "Average Observed Spectra and Residuals",
          left: 711.5,
          top: 8,
          padding: 0,
          textAlign: "center",
          textStyle: titleStyle(25),
        },
        { text: "XX", left: 733, top: 81, padding: 0, textAlign: "center", textStyle: titleStyle(21) },
        { text: "YY", left: 732, top: 487, padding: 0, textAlign: "center", textStyle: titleStyle(21) },
      ],
      legend: [legendAt(192), legendAt(598)],
      grid: [
        { ...border, top: 107, height: 78 },
        { ...border, top: 185, height: 260 },
        { ...border, top: 513, height: 78 },
        { ...border, top: 591, height: 261 },
      ],
      xAxis: [
        xAxisFor(0, false),
        xAxisFor(1, true),
        xAxisFor(2, false),
        xAxisFor(3, true, "Frequency [MHz]"),
      ],
      yAxis: [
        yAxisFor(0, -16.5, 14.1, residualTicksXX, "Residuals [K]", 55),
        yAxisFor(1, 1293, 3143, tempTicks, "Temperature [K]", 55),
        yAxisFor(2, -12, 20.2, residualTicksYY, "Residuals [K]", 42),
        yAxisFor(3, 1336, 3241, tempTicks, "Temperature [K]", 55),
      ],
      series: [
        plusSeries(
          "Residuals XX",
          0,
          [...pairs(freqXX, residualXX), ...pairs(freqBetweenXX, residualBetweenXX)],
          PLUS,
          9
        ),
        plusSeries("Data", 1, pairs(freqXX, tempXX), bandSymbol, bandSize),
        modelSeries(1, pairs(modelFreqXX, modelXX)),
        plusSeries(
          "Residuals YY",
          2,
          [...pairs(freqYY, residualYY), ...pairs(freqBetweenYY, residualBetweenYY)],
          PLUS,
          9
        ),
        plusSeries("Data", 3, pairs(freqYY, tempYY), bandSymbol, bandSize),
        modelSeries(3, pairs(modelFreqYY, modelYY)),
      ],
    });

    return () => {
      myChart.dispose();
    };
  }, []);

  return (
    <div
      ref={chartRef}
      style={{ position: "absolute", left: 0, top: 0, width: 1400, height: 901 }}
    />
  );
};

export default App;
